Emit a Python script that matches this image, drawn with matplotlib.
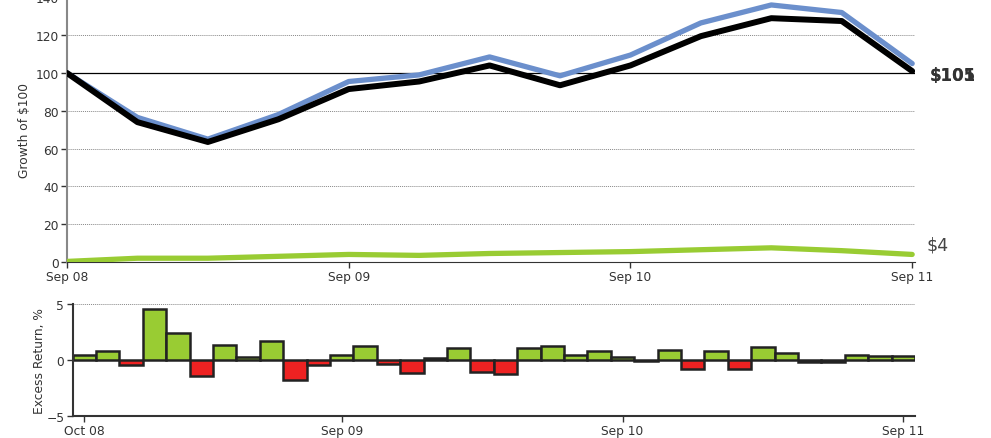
import matplotlib.pyplot as plt
import numpy as np

# quarterly growth of $100, Sep 08 .. Sep 11
fund = [100, 76.5, 65, 78, 95.5, 99, 108.5, 98.5, 109.5, 126.5, 136, 132, 105]
index = [100, 74, 63.5, 75.5, 91.5, 95.5, 104, 93.5, 104, 119.5, 129, 127.5, 101]
cash = [0.3, 2, 2, 3, 4, 3.5, 4.5, 5, 5.5, 6.5, 7.5, 6, 4]
top_ticks = ["Sep 08", "Sep 09", "Sep 10", "Sep 11"]

# monthly excess return, %, Oct 08 .. Sep 11
excess = [0.45, 0.77, -0.5, 4.5, 2.38, -1.46, 1.31, 0.24, 1.64, -1.85, -0.45, 0.45,
          1.22, -0.36, -1.22, 0.18, 1.07, -1.07, -1.31, 1.01, 1.19, 0.39, 0.8, 0.24,
          -0.15, 0.83, -0.86, 0.77, -0.83, 1.13, 0.57, -0.21, -0.21, 0.42, 0.3, 0.36]
bottom_ticks = ["Oct 08", "Sep 09", "Sep 10", "Sep 11"]

txt = '#333333'
plt.rcParams['font.family'] = 'DejaVu Sans'
plt.rcParams['font.size'] = 8.8

fig = plt.figure(figsize=(9.91, 4.39), dpi=100)

# top panel
ax = fig.add_axes([67/991, 1-263/439, (915-67)/991, 264.6/439])
q = np.arange(len(fund))
for y in [20, 40, 60, 80, 120, 140]:
    ax.axhline(y, color='#888888', lw=0.7, ls=(0, (1, 1)), zorder=1)
ax.axhline(100, color='black', lw=0.9, zorder=1)
ax.plot(q, cash, color='#99cc33', lw=3.8, solid_capstyle='round', zorder=3)
ax.plot(q, fund, color='#6b8fcc', lw=3.8, solid_capstyle='round', zorder=3)
ax.plot(q, index, color='black', lw=4.3, solid_capstyle='round', zorder=4)
ax.set_xlim(0, 12.04)
ax.set_ylim(0, 140)
ax.set_yticks(range(0, 141, 20))
ax.set_xticks([0, 4, 8, 12])
ax.set_xticklabels(top_ticks)
ax.tick_params(colors=txt, labelcolor=txt, length=4, width=1, pad=2)
ax.spines['top'].set_visible(False)
ax.spines['right'].set_visible(False)
ax.spines['left'].set_color('#888888')
ax.spines['left'].set_linewidth(1.5)
ax.spines['bottom'].set_color('#333333')
ax.set_ylabel('Growth of $100', color=txt, labelpad=3)
ax.text(12.25, 99, '$105', color='#333333', fontsize=12, fontweight='bold',
        va='center', clip_on=False)
ax.text(12.25, 99, '$101', color='#333333', fontsize=12, fontweight='bold',
        va='center', clip_on=False)
ax.text(12.2, 9, '$4', color='#444444', fontsize=12.5, va='center', clip_on=False)

# bottom panel
bx = fig.add_axes([72.7/991, 1-416.7/439, (915-72.7)/991, 112/439])
m = np.arange(len(excess))
cols = ['#99cc33' if v >= 0 else '#ee2222' for v in excess]
bx.axhline(5, color='#888888', lw=0.7, ls=(0, (1, 1)), zorder=1)
bx.bar(m, excess, width=1.0, color=cols, edgecolor='#222222', linewidth=1.8, zorder=2)
bx.set_xlim(-0.5, 35.5)
bx.set_ylim(-5, 5)
bx.set_yticks([-5, 0, 5])
bx.set_xticks([0, 11, 23, 35])
bx.set_xticklabels(bottom_ticks)
bx.tick_params(colors=txt, labelcolor=txt, length=4, width=1, pad=2)
bx.spines['top'].set_visible(False)
bx.spines['right'].set_visible(False)
bx.spines['left'].set_color('#333333')
bx.spines['bottom'].set_color('#333333')
bx.spines['left'].set_linewidth(1.5)
bx.spines['bottom'].set_linewidth(1.5)
bx.set_ylabel('Excess Return, %', color=txt, labelpad=0)

fig.savefig('out.png', dpi=100)
